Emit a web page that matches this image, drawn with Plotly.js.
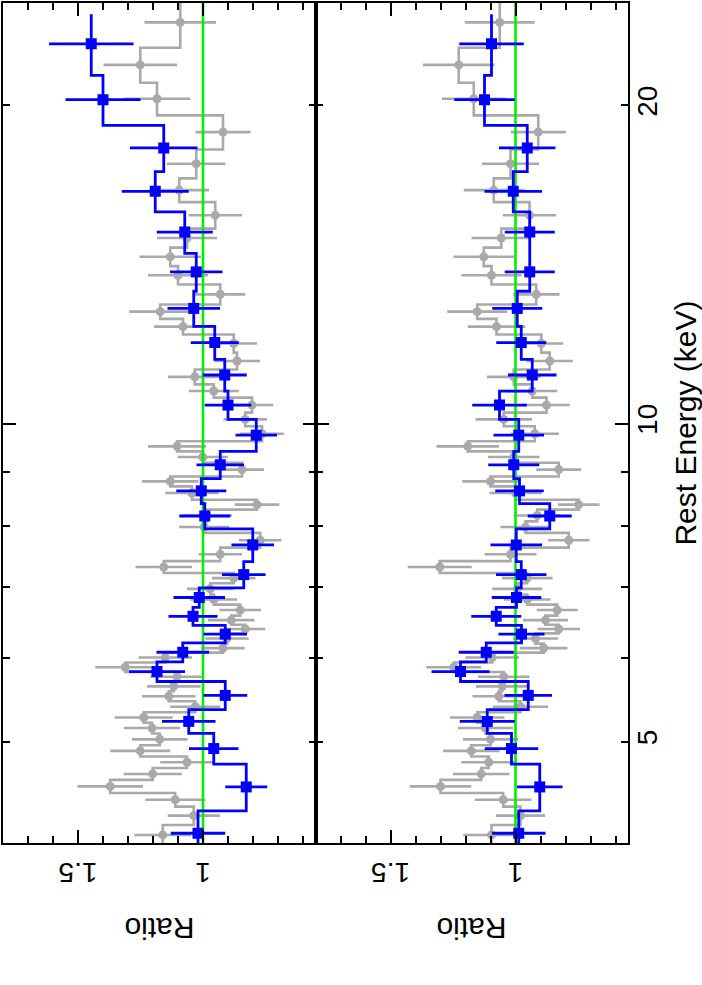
<!DOCTYPE html>
<html>
<head>
<meta charset="utf-8">
<script src="https://cdn.plot.ly/plotly-3.0.1.min.js"></script>
<style>html,body{margin:0;padding:0;background:#fff;}</style>
</head>
<body>
<div id="chart" style="width:702px;height:985px;"></div>
<script>
// ---- data (energies in keV, ordered from highest to lowest energy) ----
const grayEdges = [25.25, 22.68, 21.01, 19.57, 18.17, 17.06, 16.20, 15.29, 14.67, 14.09,
  13.54, 12.96, 12.56, 12.14, 11.67, 11.25, 10.89, 10.58, 10.24, 9.94,
  9.62, 9.41, 9.18, 8.91, 8.72, 8.47, 8.29, 8.08, 7.88, 7.63,
  7.41, 7.22, 7.06, 6.89, 6.74, 6.58, 6.45, 6.33, 6.19, 6.07,
  5.94, 5.82, 5.70, 5.58, 5.46, 5.33, 5.21, 5.09, 4.96, 4.84,
  4.72, 4.60, 4.47, 4.34, 4.17, 3.99];

const grayRatioTop = [1.091, 1.251, 1.184, 0.920, 1.027, 1.095, 0.951, 1.064, 1.131, 1.100,
  0.931, 1.171, 1.080, 0.877, 0.864, 1.033, 0.957, 0.804, 0.831, 0.764,
  1.104, 1.001, 0.844, 1.131, 1.044, 0.784, 0.984, 0.995, 0.771, 0.931,
  1.157, 0.877, 0.971, 0.957, 0.851, 0.887, 0.831, 0.904, 0.920, 1.151,
  1.311, 1.104, 1.117, 1.137, 1.031, 1.237, 1.204, 1.173, 1.251, 1.064,
  1.201, 1.371, 1.111, 1.037, 1.161];
const grayErrTop = [0.143, 0.147, 0.133, 0.110, 0.117, 0.119, 0.107, 0.120, 0.123, 0.120,
  0.100, 0.124, 0.116, 0.093, 0.092, 0.107, 0.100, 0.085, 0.087, 0.087,
  0.116, 0.100, 0.088, 0.113, 0.107, 0.089, 0.100, 0.100, 0.085, 0.087,
  0.113, 0.087, 0.093, 0.093, 0.083, 0.093, 0.080, 0.087, 0.087, 0.107,
  0.120, 0.107, 0.107, 0.107, 0.100, 0.116, 0.113, 0.111, 0.120, 0.107,
  0.116, 0.131, 0.120, 0.104, 0.113];

const grayRatioBot = [1.063, 1.227, 1.167, 0.909, 1.020, 1.087, 0.944, 1.057, 1.127, 1.096,
  0.917, 1.153, 1.076, 0.897, 0.863, 1.007, 0.933, 0.876, 1.047, 0.923,
  1.191, 1.007, 0.827, 1.100, 1.000, 0.747, 0.913, 0.960, 0.787, 1.020,
  1.303, 0.953, 0.993, 0.953, 0.833, 0.880, 0.827, 0.920, 0.887, 1.093,
  1.247, 1.047, 1.053, 1.067, 0.980, 1.153, 1.120, 1.100, 1.177, 1.107,
  1.137, 1.300, 1.049, 0.980, 1.096];
const grayErrBot = [0.140, 0.143, 0.127, 0.110, 0.114, 0.120, 0.107, 0.119, 0.121, 0.120,
  0.093, 0.120, 0.115, 0.088, 0.092, 0.107, 0.100, 0.093, 0.113, 0.096,
  0.125, 0.103, 0.090, 0.113, 0.104, 0.083, 0.095, 0.100, 0.083, 0.104,
  0.128, 0.101, 0.100, 0.093, 0.082, 0.090, 0.085, 0.090, 0.095, 0.107,
  0.110, 0.103, 0.105, 0.105, 0.110, 0.109, 0.110, 0.110, 0.113, 0.110,
  0.113, 0.123, 0.113, 0.098, 0.113];

const blueEdges = [24.39, 21.35, 19.15, 17.31, 15.86, 14.49, 13.34, 12.36, 11.50, 10.73,
  10.09, 9.41, 8.87, 8.40, 7.95, 7.40, 6.99, 6.70, 6.44, 6.20,
  5.95, 5.70, 5.36, 5.09, 4.76, 4.30, 3.89];

const blueRatioTop = [1.447, 1.400, 1.157, 1.191, 1.073, 1.027, 1.037, 0.953, 0.913, 0.900,
  0.787, 0.931, 1.007, 0.993, 0.801, 0.837, 1.015, 1.040, 0.911, 1.081,
  1.184, 0.911, 1.057, 0.957, 0.827, 1.020];
const blueErrTop = [0.169, 0.150, 0.135, 0.134, 0.112, 0.105, 0.105, 0.096, 0.088, 0.093,
  0.083, 0.095, 0.100, 0.102, 0.085, 0.087, 0.103, 0.098, 0.087, 0.105,
  0.112, 0.088, 0.107, 0.099, 0.084, 0.109];

const blueRatioBot = [1.096, 1.124, 0.953, 1.009, 0.943, 0.943, 0.993, 0.977, 0.933, 1.064,
  0.987, 1.007, 0.984, 0.863, 0.997, 0.977, 0.996, 1.077, 0.976, 1.117,
  1.220, 0.949, 1.113, 1.016, 0.903, 0.987];
const blueErrBot = [0.129, 0.121, 0.113, 0.115, 0.100, 0.100, 0.100, 0.100, 0.097, 0.109,
  0.101, 0.102, 0.097, 0.088, 0.103, 0.101, 0.099, 0.100, 0.092, 0.110,
  0.116, 0.095, 0.110, 0.107, 0.091, 0.107];

const unityRatio = 1;
const energyRange = [4.009, 25.0];
const ratioRange = [1.8, 0.55];
const energyTicks = [5, 10, 20];
const energyMinor = [6, 7, 8, 9];
const energyMajorLong = [10];
const ratioTicks = [1, 1.5];
const ratioMinor = [0.6, 0.7, 0.8, 0.9, 1.1, 1.2, 1.3, 1.4, 1.6, 1.7];
const panelTitles = ['Ratio', 'Ratio'];
const energyTitle = 'Rest Energy (keV)';

// ---- helpers ----
function stepPath(edges, ratios) {
  const xs = [], ys = [];
  for (let i = 0; i < ratios.length; i++) {
    xs.push(ratios[i], ratios[i]);
    ys.push(edges[i], edges[i + 1]);
  }
  return {x: xs, y: ys};
}
function centers(edges, n) {
  const c = [];
  for (let i = 0; i < n; i++) c.push((edges[i] + edges[i + 1]) / 2);
  return c;
}

const GRAY = '#a9a9a9', BLUE = '#0000ff', GREEN = '#00f000';

function panelTraces(xa, ya, yaOver, gR, gE, bR, bE) {
  const gs = stepPath(grayEdges, gR), bs = stepPath(blueEdges, bR);
  return [
    {type: 'scatter', mode: 'lines', x: gs.x, y: gs.y, xaxis: xa, yaxis: ya,
     line: {color: GRAY, width: 2.6}, hoverinfo: 'skip'},
    {type: 'scatter', mode: 'markers', x: gR, y: centers(grayEdges, gR.length), xaxis: xa, yaxis: ya,
     marker: {symbol: 'circle', size: 9, color: GRAY},
     error_x: {type: 'data', array: gE, visible: true, color: GRAY, thickness: 2.6, width: 0}},
    {type: 'scatter', mode: 'lines', x: [unityRatio, unityRatio], y: energyRange, xaxis: xa, yaxis: yaOver,
     line: {color: GREEN, width: 2.6}, hoverinfo: 'skip'},
    {type: 'scatter', mode: 'lines', x: bs.x, y: bs.y, xaxis: xa, yaxis: yaOver,
     line: {color: BLUE, width: 2.8}, hoverinfo: 'skip'},
    {type: 'scatter', mode: 'markers', x: bR, y: centers(blueEdges, bR.length), xaxis: xa, yaxis: yaOver,
     marker: {symbol: 'square', size: 11, color: BLUE},
     error_x: {type: 'data', array: bE, visible: true, color: BLUE, thickness: 2.8, width: 0}}
  ];
}

const data = [].concat(
  panelTraces('x', 'y', 'y3', grayRatioTop, grayErrTop, blueRatioTop, blueErrTop),
  panelTraces('x2', 'y2', 'y4', grayRatioBot, grayErrBot, blueRatioBot, blueErrBot)
);

const FONT = 'Liberation Sans, Arial, Helvetica, sans-serif';
const logRange = [Math.log10(energyRange[0]), Math.log10(energyRange[1])];

function xAxis(domain, anchor) {
  return {
    domain: domain, anchor: anchor, range: ratioRange, autorange: false,
    tickmode: 'array', tickvals: ratioTicks, ticktext: ratioTicks.map(String),
    ticks: 'inside', ticklen: 13, tickwidth: 2, tickcolor: '#000',
    tickangle: 180, tickfont: {family: FONT, size: 28, color: '#000'}, ticklabelstandoff: 12,
    showline: true, linewidth: 2, linecolor: '#000', mirror: 'ticks',
    showgrid: false, zeroline: false,
    minor: {tickmode: 'array', tickvals: ratioMinor, ticks: 'inside', ticklen: 7, tickwidth: 2, tickcolor: '#000', showgrid: false}
  };
}
function yAxis(anchor, labels) {
  const ax = {
    type: 'log', range: logRange, autorange: false, anchor: anchor, domain: [0, 1],
    tickmode: 'array', tickvals: energyTicks, ticktext: energyTicks.map(String),
    ticks: 'inside', ticklen: 7, tickwidth: 2, tickcolor: '#000',
    showline: true, linewidth: 2, linecolor: '#000', mirror: 'ticks',
    showgrid: false, zeroline: false, showticklabels: labels,
    tickangle: -90, tickfont: {family: FONT, size: 28, color: '#000'},
    minor: {tickmode: 'array', tickvals: energyMinor, ticks: 'inside', ticklen: 7, tickwidth: 2, tickcolor: '#000', showgrid: false}
  };
  if (labels) {
    ax.side = 'right';
    ax.ticklabelstandoff = -7;
    ax.title = {text: energyTitle, font: {family: FONT, size: 30, color: '#000'}, standoff: 16};
  }
  return ax;
}
function yOver(over, anchor) {
  return {
    type: 'log', range: logRange, autorange: false, overlaying: over, anchor: anchor,
    tickmode: 'array', tickvals: energyMajorLong, ticks: 'inside', ticklen: 13, tickwidth: 2, tickcolor: '#000',
    showline: false, mirror: 'ticks', showgrid: false, zeroline: false, showticklabels: false
  };
}

const layout = {
  width: 702, height: 985,
  margin: {l: 3, r: 74, t: 3, b: 142},
  paper_bgcolor: '#fff', plot_bgcolor: 'rgba(0,0,0,0)',
  showlegend: false,
  font: {family: FONT, size: 28, color: '#000'},
  xaxis: xAxis([0, 0.5], 'y'),
  xaxis2: xAxis([0.5, 1], 'y2'),
  yaxis: yAxis('x', false),
  yaxis2: yAxis('x2', true),
  yaxis3: yOver('y', 'x'),
  yaxis4: yOver('y2', 'x2'),
  annotations: panelTitles.map((t, i) => ({
    text: t, xref: 'paper', yref: 'paper', x: 0.25 + 0.5 * i, y: -0.101,
    xanchor: 'center', yanchor: 'middle', showarrow: false, textangle: 180,
    font: {family: FONT, size: 30, color: '#000'}
  }))
};

Plotly.newPlot('chart', data, layout, {staticPlot: true, displayModeBar: false});
</script>
</body>
</html>
